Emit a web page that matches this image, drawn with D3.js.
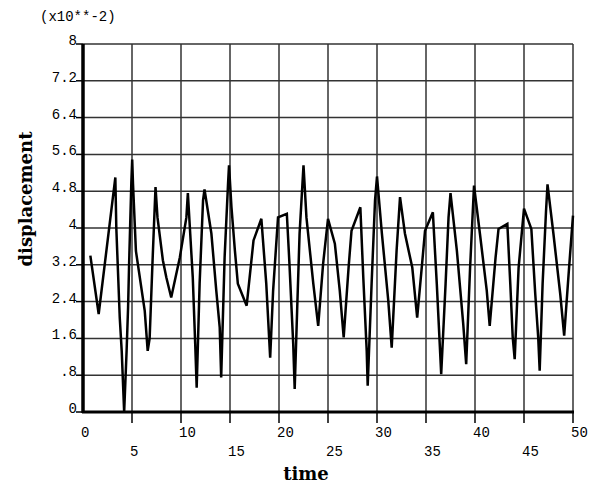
<!DOCTYPE html>
<html lang="en">
<head>
<meta charset="UTF-8">
<title>displacement vs time</title>
<style>
  body { margin: 0; padding: 0; background: #fff; }
  svg { display: block; }
  .mono { font-family: "Liberation Mono", "DejaVu Sans Mono", monospace; font-size: 14px; fill: #000; }
  .axis-title { font-family: "DejaVu Serif", "Liberation Serif", serif; font-weight: bold; fill: #000; }
</style>
<script src="https://d3js.org/d3.v7.min.js"></script>
</head>
<body>
<div id="chart"></div>
<script>
// values, displacement in units of 10^-2
const times = [0.75, 1.6, 3.3, 3.4, 3.75, 3.95, 4.2, 4.45, 4.6, 4.7, 4.93, 5.02, 5.1, 5.4, 6.3, 6.6, 6.8, 7.1, 7.4, 7.6,
  8.15, 8.5, 9.0, 9.88, 10.55, 10.7, 11.2, 11.45, 11.6, 11.9, 12.25, 12.4, 13.1, 13.6, 13.95, 14.1, 14.45, 14.8, 14.9, 15.15,
  15.5, 15.8, 16.7, 17.4, 18.2, 18.7, 19.1, 19.4, 19.9, 20.8, 21.05, 21.45, 21.6, 21.85, 22.1, 22.5, 22.8, 23.5, 24.0, 24.5,
  25.0, 25.7, 26.2, 26.6, 27.1, 27.4, 28.3, 28.6, 28.95, 29.05, 29.45, 29.8, 30.0, 30.5, 31.15, 31.5, 32.0, 32.35, 32.85, 33.6,
  34.1, 34.6, 34.9, 35.7, 36.1, 36.4, 36.55, 37.0, 37.3, 37.5, 38.15, 38.8, 39.1, 39.5, 39.9, 40.5, 41.2, 41.5, 42.1, 42.4,
  43.3, 43.6, 43.85, 44.05, 44.45, 45.0, 45.75, 46.15, 46.45, 46.6, 46.9, 47.25, 47.4, 48.0, 48.7, 49.1, 49.6, 50.0];
const displacement = [3.4, 2.13, 5.1, 4.0, 2.05, 1.33, 0.0, 1.33, 2.27, 3.18, 4.97, 5.49, 4.97, 3.5, 2.2, 1.33, 1.6, 3.3, 4.89, 4.23,
  3.3, 2.93, 2.49, 3.36, 4.23, 4.76, 2.93, 1.48, 0.53, 2.79, 4.6, 4.84, 3.88, 2.64, 1.84, 0.75, 3.36, 4.96, 5.36, 4.45,
  3.51, 2.79, 2.31, 3.73, 4.2, 2.79, 1.18, 2.64, 4.23, 4.31, 3.29, 1.48, 0.5, 2.2, 3.88, 5.36, 4.23, 2.79, 1.87, 3.22,
  4.2, 3.66, 2.64, 1.62, 3.14, 3.94, 4.45, 2.93, 1.33, 0.57, 2.79, 4.6, 5.12, 3.88, 2.42, 1.4, 3.51, 4.67, 3.88, 3.14,
  2.05, 3.22, 3.94, 4.34, 2.79, 1.48, 0.82, 2.79, 4.23, 4.76, 3.51, 1.91, 1.04, 3.14, 4.92, 3.88, 2.64, 1.87, 3.36, 3.98,
  4.09, 2.79, 1.62, 1.15, 3.14, 4.42, 3.98, 2.56, 1.62, 0.9, 2.79, 4.38, 4.95, 3.88, 2.56, 1.66, 3.14, 4.27];

const xTicks = [0, 5, 10, 15, 20, 25, 30, 35, 40, 45, 50];
const yTicks = [0, 0.8, 1.6, 2.4, 3.2, 4, 4.8, 5.6, 6.4, 7.2, 8];
const yTickLabels = ["0", ".8", "1.6", "2.4", "3.2", "4", "4.8", "5.6", "6.4", "7.2", "8"];

const W = 598, H = 484;
const plot = { left: 83, right: 573, top: 44, bottom: 412 };

const svg = d3.select("#chart").append("svg")
  .attr("width", W)
  .attr("height", H);

const x = d3.scaleLinear().domain([0, 50]).range([plot.left, plot.right]);
const y = d3.scaleLinear().domain([0, 8]).range([plot.bottom, plot.top]);

// grid
const grid = svg.append("g").attr("stroke", "#333").attr("stroke-width", 1.5);
grid.selectAll("line.h").data(yTicks.slice(1)).join("line")
  .attr("class", "h")
  .attr("x1", plot.left).attr("x2", plot.right)
  .attr("y1", d => y(d)).attr("y2", d => y(d));
grid.selectAll("line.v").data(xTicks.slice(1)).join("line")
  .attr("class", "v")
  .attr("y1", plot.top).attr("y2", plot.bottom)
  .attr("x1", d => x(d)).attr("x2", d => x(d));

// y tick marks and labels
svg.append("g").selectAll("line").data(yTicks).join("line")
  .attr("x1", plot.left - 7).attr("x2", plot.left)
  .attr("y1", d => y(d)).attr("y2", d => y(d))
  .attr("stroke", "#000").attr("stroke-width", 1.5);
svg.append("g").selectAll("text").data(yTicks).join("text")
  .attr("class", "mono")
  .attr("x", plot.left - 6)
  .attr("y", d => y(d) + 1)
  .attr("text-anchor", "end")
  .text((d, i) => yTickLabels[i]);

// x tick marks and labels
svg.append("g").selectAll("line").data(xTicks.slice(1)).join("line")
  .attr("x1", d => x(d)).attr("x2", d => x(d))
  .attr("y1", plot.bottom).attr("y2", plot.bottom + 11)
  .attr("stroke", "#000").attr("stroke-width", 1.5);
svg.append("g").selectAll("text").data(xTicks).join("text")
  .attr("class", "mono")
  .attr("x", d => x(d) - 2)
  .attr("y", d => (d % 10 === 0) ? 437 : 456)
  .text(d => d);

// axes (thick)
svg.append("line").attr("x1", plot.left).attr("x2", plot.left).attr("y1", plot.top).attr("y2", plot.bottom + 1)
  .attr("stroke", "#000").attr("stroke-width", 3.5);
svg.append("line").attr("x1", plot.left - 1).attr("x2", plot.right + 1).attr("y1", plot.bottom).attr("y2", plot.bottom)
  .attr("stroke", "#000").attr("stroke-width", 3);

// data line
const line = d3.line().x((d, i) => x(times[i])).y(d => y(d));
svg.append("path")
  .datum(displacement)
  .attr("d", line)
  .attr("fill", "none")
  .attr("stroke", "#000")
  .attr("stroke-width", 2.5)
  .attr("stroke-linejoin", "miter");

// titles
svg.append("text").attr("class", "mono").attr("x", 40).attr("y", 21).text("(x10**-2)");
svg.append("text").attr("class", "axis-title")
  .attr("font-size", 18)
  .attr("x", 306).attr("y", 480)
  .attr("text-anchor", "middle")
  .text("time");
svg.append("text").attr("class", "axis-title")
  .attr("font-size", 18)
  .attr("transform", "translate(32,199) rotate(-90)")
  .attr("text-anchor", "middle")
  .text("displacement");
</script>
</body>
</html>
